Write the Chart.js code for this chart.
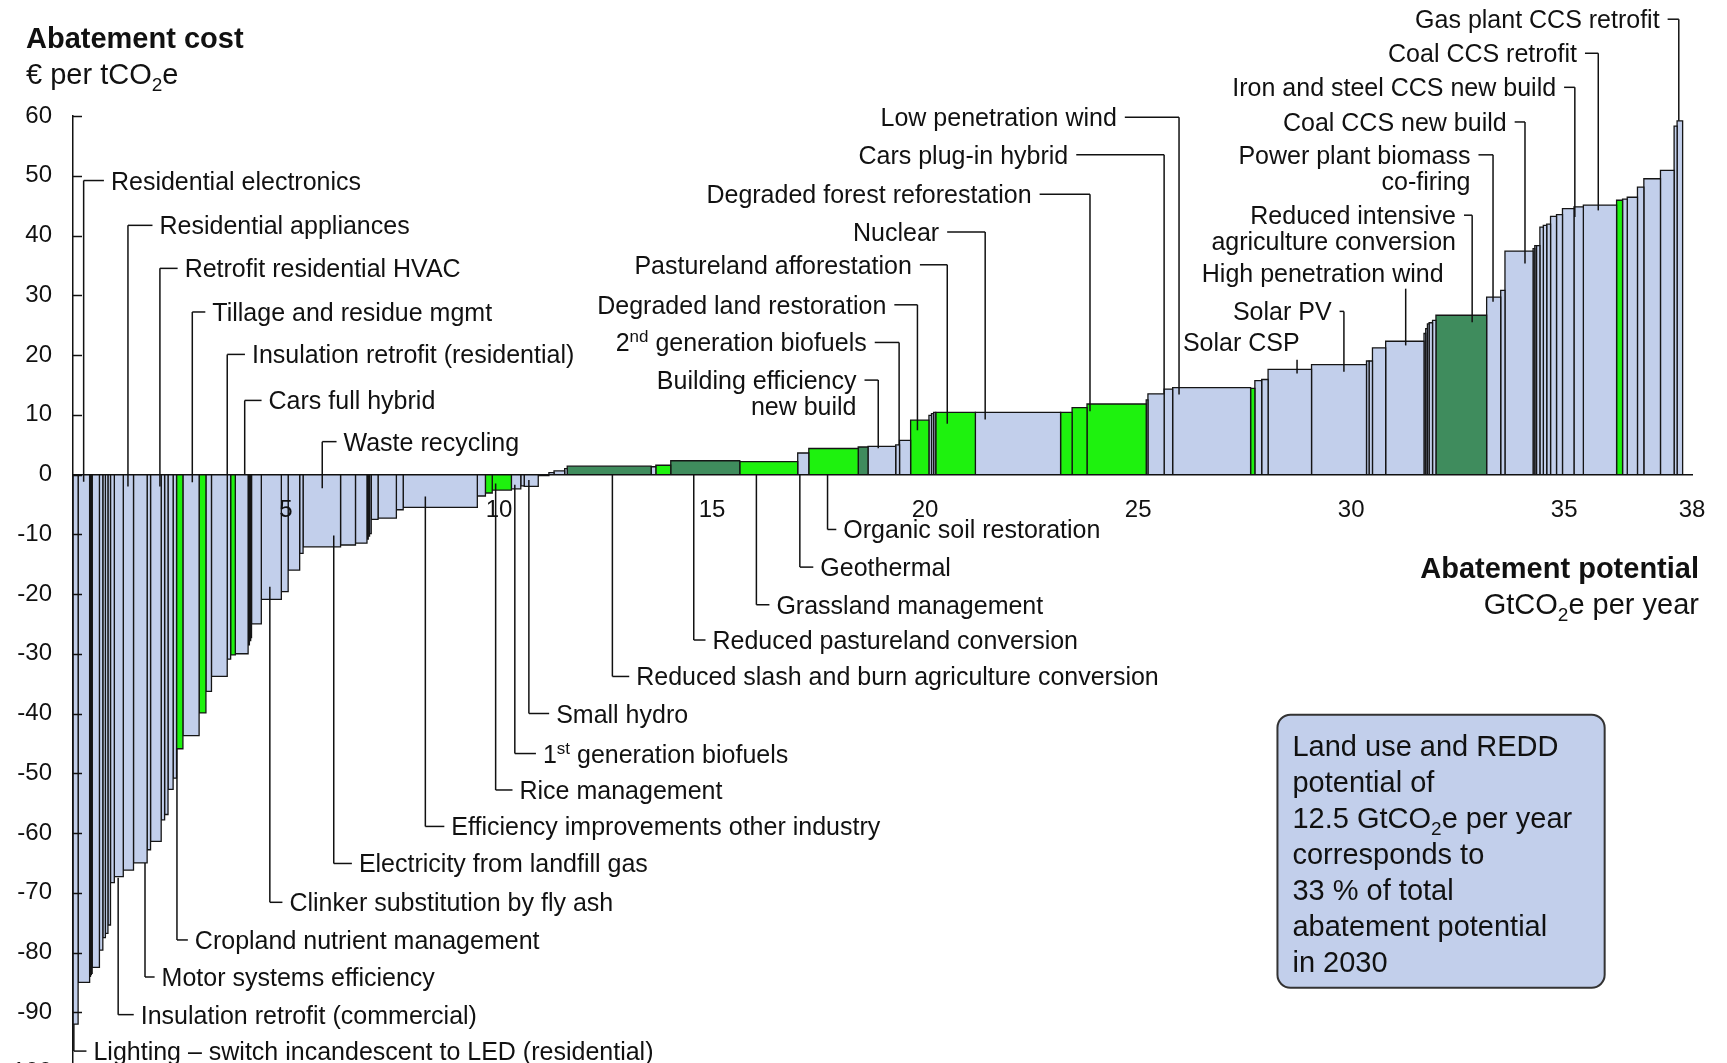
<!DOCTYPE html>
<html lang="en">
<head>
  <meta charset="UTF-8">
  <title>Abatement cost curve</title>
  <script src="https://cdn.jsdelivr.net/npm/chart.js@4.4.1/dist/chart.umd.min.js"></script>
  <style>
    html, body { margin: 0; padding: 0; background: #fff; overflow: hidden; }
    #wrap { position: relative; width: 1727px; height: 1108px; }
  </style>
</head>
<body>
  <div id="wrap"><canvas id="macc"></canvas></div>
  <script>
    // Bars from left to right: width (GtCO2e per year), cost (EUR per tCO2e), colour group
    const barWidths = [
      0.12, 0.27, 0.02, 0.02, 0.02, 0.17, 0.08, 0.06, 0.06, 0.06,
      0.09, 0.21, 0.24, 0.32, 0.08, 0.25, 0.08, 0.08, 0.12, 0.08,
      0.15, 0.38, 0.16, 0.13, 0.37, 0.08, 0.11, 0.30, 0.03, 0.03,
      0.02, 0.23, 0.47, 0.16, 0.27, 0.08, 0.88, 0.35, 0.27, 0.03,
      0.03, 0.04, 0.16, 0.43, 0.16, 1.74, 0.19, 0.16, 0.45, 0.22,
      0.08, 0.33, 0.25, 0.12, 0.25, 0.06, 1.97, 0.11, 0.35, 1.62,
      1.36, 0.26, 1.16, 0.23, 0.65, 0.09, 0.26, 0.43, 0.06, 0.05,
      0.05, 0.93, 2.00, 0.27, 0.35, 1.39, 0.04, 0.38, 0.20, 1.83,
      0.10, 0.16, 0.15, 1.02, 1.29, 0.06, 0.08, 0.31, 0.90, 0.04,
      0.04, 0.04, 0.08, 0.08, 1.19, 0.33, 0.10, 0.66, 0.04, 0.04,
      0.08, 0.08, 0.08, 0.09, 0.14, 0.14, 0.27, 0.22, 0.78, 0.14,
      0.11, 0.24, 0.15, 0.39, 0.32, 0.07, 0.13
    ];
    const barCosts = [
      -92, -85, -84, -83.7, -83.5, -82.5, -79.6, -77.5, -76.8, -75.4,
      -68.3, -67.3, -66.2, -65, -62.8, -61.4, -57.8, -56.9, -52.7, -50.8,
      -45.9, -43.7, -39.9, -36.3, -33.8, -30.9, -30.2, -30, -28.5, -27.8,
      -27.3, -25, -20.9, -19.6, -16, -13.2, -12.1, -11.8, -11.5, -10.8,
      -10.3, -9.9, -7.5, -7.3, -5.9, -5.5, -3.6, -3.1, -2.6, -2.4,
      -1.9, -2, -0.2, 0.3, 0.6, 1, 1.4, 1.3, 1.55, 2.3,
      2.15, 3.6, 4.35, 4.6, 4.7, 4.95, 5.7, 9.1, 9.9, 10.2,
      10.4, 10.4, 10.4, 10.4, 11.2, 11.8, 12.5, 13.5, 14.3, 14.55,
      14.4, 15.7, 15.9, 17.6, 18.4, 19, 19, 21.2, 22.3, 23.6,
      24.4, 25.2, 25.4, 25.8, 26.65, 29.7, 30.8, 37.4, 37.8, 38.3,
      38.3, 41.4, 41.7, 41.9, 43.2, 43.5, 44.5, 44.8, 45.1, 45.9,
      46.1, 46.4, 48.1, 49.5, 50.9, 58.3, 59.2
    ];
    // b = other levers, g = land use, d = land use / REDD
    const barGroups = [
      'b','b','b','b','b','b','b','b','b','b',
      'b','b','b','b','b','b','b','b','b','b',
      'g','b','g','b','b','b','g','b','b','b',
      'b','b','b','b','b','b','b','b','b','b',
      'b','b','b','b','b','b','b','g','g','b',
      'b','b','b','b','b','b','d','b','g','d',
      'g','b','g','d','b','b','b','g','b','b',
      'b','g','b','g','g','g','b','b','b','b',
      'g','b','b','b','b','b','b','b','b','b',
      'b','b','b','b','d','b','b','b','b','b',
      'b','b','b','b','b','b','b','b','b','g',
      'b','b','b','b','b','b','b'
    ];
    const xTickValues = [5, 10, 15, 20, 25, 30, 35, 38];

    const groupColors = { b: '#c2cfeb', g: '#1ef20e', d: '#3f8c5d' };
    const FONT = '"Liberation Sans", Arial, Helvetica, sans-serif';

    // Callouts: leader x, text x, label y (cost units), where the leader meets the bar
    const callouts = [
      { side: 'r', t: 'Residential electronics', x: 0.25, tx: 0.89, y: 49.2, end: -1.2 },
      { side: 'r', t: 'Residential appliances', x: 1.29, tx: 2.03, y: 41.7, end: -2 },
      { side: 'r', t: 'Retrofit residential HVAC', x: 2.04, tx: 2.62, y: 34.5, end: -2 },
      { side: 'r', t: 'Tillage and residue mgmt', x: 2.80, tx: 3.27, y: 27.2, end: -1.3 },
      { side: 'r', t: 'Insulation retrofit (residential)', x: 3.62, tx: 4.20, y: 20.1, end: 0 },
      { side: 'r', t: 'Cars full hybrid', x: 4.03, tx: 4.59, y: 12.4, end: 0 },
      { side: 'r', t: 'Waste recycling', x: 5.85, tx: 6.35, y: 5.5, end: -2.3 },
      { side: 'r', t: 'Lighting – switch incandescent to LED (residential)', x: 0.02, tx: 0.48, y: -96.5, end: -92 },
      { side: 'r', t: 'Insulation retrofit (commercial)', x: 1.06, tx: 1.59, y: -90.4, end: -67.5 },
      { side: 'r', t: 'Motor systems efficiency', x: 1.69, tx: 2.08, y: -84.1, end: -65 },
      { side: 'r', t: 'Cropland nutrient management', x: 2.44, tx: 2.86, y: -77.9, end: -45.9 },
      { side: 'r', t: 'Clinker substitution by fly ash', x: 4.62, tx: 5.08, y: -71.6, end: -18.8 },
      { side: 'r', t: 'Electricity from landfill gas', x: 6.12, tx: 6.71, y: -65.1, end: -10.2 },
      { side: 'r', t: 'Efficiency improvements other industry', x: 8.27, tx: 8.88, y: -58.9, end: -3.7 },
      { side: 'r', t: 'Rice management', x: 9.92, tx: 10.48, y: -52.8, end: -1.5 },
      { side: 'r', t: '1^{st} generation biofuels', x: 10.37, tx: 11.03, y: -46.7, end: -1.7 },
      { side: 'r', t: 'Small hydro', x: 10.70, tx: 11.34, y: -40.0, end: -0.9 },
      { side: 'r', t: 'Reduced slash and burn agriculture conversion', x: 12.66, tx: 13.22, y: -33.8, end: 0 },
      { side: 'r', t: 'Reduced pastureland conversion', x: 14.57, tx: 15.01, y: -27.7, end: 0 },
      { side: 'r', t: 'Grassland management', x: 16.04, tx: 16.51, y: -21.8, end: 0 },
      { side: 'r', t: 'Geothermal', x: 17.06, tx: 17.54, y: -15.5, end: 0 },
      { side: 'r', t: 'Organic soil restoration', x: 17.71, tx: 18.08, y: -9.2, end: 0 },
      { side: 'l', t: ['Building efficiency', 'new build'], x: 18.90, tx: 18.39, y: 15.8, end: 4.4 },
      { side: 'l', t: '2^{nd} generation biofuels', x: 19.39, tx: 18.63, y: 22.1, end: 4.9 },
      { side: 'l', t: 'Degraded land restoration', x: 19.82, tx: 19.09, y: 28.4, end: 7.4 },
      { side: 'l', t: 'Pastureland afforestation', x: 20.52, tx: 19.69, y: 35.1, end: 8.5 },
      { side: 'l', t: 'Nuclear', x: 21.41, tx: 20.33, y: 40.6, end: 9.2 },
      { side: 'l', t: 'Degraded forest reforestation', x: 23.87, tx: 22.5, y: 46.9, end: 10.6 },
      { side: 'l', t: 'Cars plug-in hybrid', x: 25.61, tx: 23.36, y: 53.5, end: 13.5 },
      { side: 'l', t: 'Low penetration wind', x: 25.96, tx: 24.5, y: 59.8, end: 13.4 },
      { side: 'l', t: 'Solar PV', x: 29.83, tx: 29.54, y: 27.3, end: 17.2 },
      { side: 'l', t: ['Reduced intensive', 'agriculture conversion'], x: 32.84, tx: 32.46, y: 43.4, end: 25.5 },
      { side: 'l', t: ['Power plant biomass', 'co-firing'], x: 33.33, tx: 32.8, y: 53.5, end: 28.9 },
      { side: 'l', t: 'Coal CCS new build', x: 34.08, tx: 33.65, y: 59.0, end: 35.3 },
      { side: 'l', t: 'Iron and steel CCS new build', x: 35.25, tx: 34.81, y: 64.8, end: 43.1 },
      { side: 'l', t: 'Coal CCS retrofit', x: 35.80, tx: 35.3, y: 70.5, end: 44.2 },
      { side: 'l', t: 'Gas plant CCS retrofit', x: 37.69, tx: 37.24, y: 76.2, end: 59.2 },
      { side: 'v', t: 'High penetration wind', x: 31.28, tx: 32.17, y: 33.8, top: 31.1, end: 21.6 },
      { side: 'v', t: 'Solar CSP', x: 28.73, tx: 28.79, y: 22.1, top: 19.2, end: 16.9 }
    ];

    const boxLines = [
      'Land use and REDD',
      'potential of',
      '12.5 GtCO_{2}e per year',
      'corresponds to',
      '33 % of total',
      'abatement potential',
      'in 2030'
    ];

    // split "tCO_{2}e" / "1^{st}" into normal, sub and sup pieces
    function richParts(str) {
      const parts = [];
      const re = /([_^])\{([^}]*)\}/g;
      let last = 0, m;
      while ((m = re.exec(str))) {
        if (m.index > last) parts.push({ t: str.slice(last, m.index), m: '' });
        parts.push({ t: m[2], m: m[1] });
        last = re.lastIndex;
      }
      if (last < str.length) parts.push({ t: str.slice(last), m: '' });
      return parts;
    }

    function drawRich(ctx, str, x, y, align, size, weight) {
      const parts = richParts(str);
      const fontFor = p => `${weight} ${p.m ? Math.round(size * 0.66) : size}px ${FONT}`;
      let total = 0;
      parts.forEach(p => { ctx.font = fontFor(p); p.w = ctx.measureText(p.t).width; total += p.w; });
      let cx = align === 'right' ? x - total : x;
      ctx.textAlign = 'left';
      ctx.textBaseline = 'alphabetic';
      parts.forEach(p => {
        ctx.font = fontFor(p);
        const dy = p.m === '_' ? size * 0.24 : (p.m === '^' ? -size * 0.36 : 0);
        ctx.fillText(p.t, cx, y + dy);
        cx += p.w;
      });
    }

    function line(ctx, x1, y1, x2, y2) {
      ctx.beginPath();
      ctx.moveTo(x1, y1);
      ctx.lineTo(x2, y2);
      ctx.stroke();
    }

    const annotate = {
      id: 'annotate',
      afterDraw(chart) {
        const { ctx, chartArea, scales: { x, y } } = chart;
        const px = v => x.getPixelForValue(v);
        const py = v => y.getPixelForValue(v);
        ctx.save();
        ctx.strokeStyle = '#111';
        ctx.fillStyle = '#111';
        ctx.lineWidth = 1.5;

        // small inward tick marks on the cost axis
        y.ticks.forEach(t => {
          const yy = Math.round(py(t.value)) + 0.5;
          line(ctx, chartArea.left, yy, chartArea.left + 9, yy);
        });

        // callouts with leader lines
        const size = 25;
        callouts.forEach(c => {
          const lines = Array.isArray(c.t) ? c.t : [c.t];
          const lx = px(c.x), ly = py(c.y), tx = px(c.tx);
          if (c.side === 'r') {
            line(ctx, lx, py(c.end), lx, ly);
            line(ctx, lx, ly, tx - 7, ly);
            lines.forEach((s, i) => drawRich(ctx, s, tx, ly + 9 + i * 26, 'left', size, 'normal'));
          } else if (c.side === 'l') {
            line(ctx, lx, py(c.end), lx, ly);
            line(ctx, lx, ly, tx + 8, ly);
            lines.forEach((s, i) => drawRich(ctx, s, tx, ly + 9 + i * 26, 'right', size, 'normal'));
          } else {
            line(ctx, lx, py(c.end), lx, py(c.top));
            lines.forEach((s, i) => drawRich(ctx, s, tx, ly + 9 + i * 26, 'right', size, 'normal'));
          }
        });

        // axis titles
        drawRich(ctx, 'Abatement cost', 26, 48, 'left', 29, 'bold');
        drawRich(ctx, '€ per tCO_{2}e', 26, 84, 'left', 29, 'normal');
        drawRich(ctx, 'Abatement potential', 1699, 578, 'right', 29, 'bold');
        drawRich(ctx, 'GtCO_{2}e per year', 1699, 614, 'right', 29, 'normal');

        // land use note
        const bx1 = px(28.27), bx2 = px(35.95), by1 = py(-40.2), by2 = py(-85.9);
        ctx.beginPath();
        ctx.roundRect(bx1, by1, bx2 - bx1, by2 - by1, 13);
        ctx.fillStyle = '#c2cfeb';
        ctx.fill();
        ctx.lineWidth = 2;
        ctx.strokeStyle = '#333';
        ctx.stroke();
        ctx.fillStyle = '#111';
        boxLines.forEach((s, i) => drawRich(ctx, s, bx1 + 15, by1 + 41 + i * 36.1, 'left', 29, 'normal'));
        ctx.restore();
      }
    };

    // one filled step outline per lever, placed end to end along the x axis
    let start = 0;
    const datasets = barWidths.map((w, i) => {
      const end = start + w;
      const cost = barCosts[i];
      const ds = {
        data: [{ x: start, y: 0 }, { x: start, y: cost }, { x: end, y: cost }, { x: end, y: 0 }],
        borderColor: '#151515',
        borderWidth: 1.3,
        backgroundColor: groupColors[barGroups[i]],
        fill: 'origin',
        pointRadius: 0,
        tension: 0
      };
      start = end;
      return ds;
    });

    const tickFont = { family: FONT, size: 24 };

    new Chart(document.getElementById('macc'), {
      type: 'line',
      data: { datasets: datasets },
      options: {
        responsive: true,
        maintainAspectRatio: false,
        animation: false,
        events: [],
        layout: { padding: { left: 0, right: 35, top: 116, bottom: 36 } },
        plugins: { legend: { display: false }, tooltip: { enabled: false } },
        scales: {
          x: {
            type: 'linear',
            position: { y: 0 },
            min: 0,
            max: 38,
            afterBuildTicks: s => { s.ticks = xTickValues.map(v => ({ value: v })); },
            grid: { display: false, drawTicks: false },
            border: { display: true, color: '#111', width: 1.5, z: 1 },
            ticks: { z: 1, padding: 21, color: '#111', font: tickFont, autoSkip: false, maxRotation: 0 }
          },
          y: {
            min: -100,
            max: 60,
            afterFit: s => { s.width = 73; },
            grid: { display: false, drawTicks: false },
            border: { display: true, color: '#111', width: 1.5, z: 1 },
            ticks: { stepSize: 10, padding: 21, color: '#111', font: tickFont }
          }
        }
      },
      plugins: [annotate]
    });
  </script>
</body>
</html>
